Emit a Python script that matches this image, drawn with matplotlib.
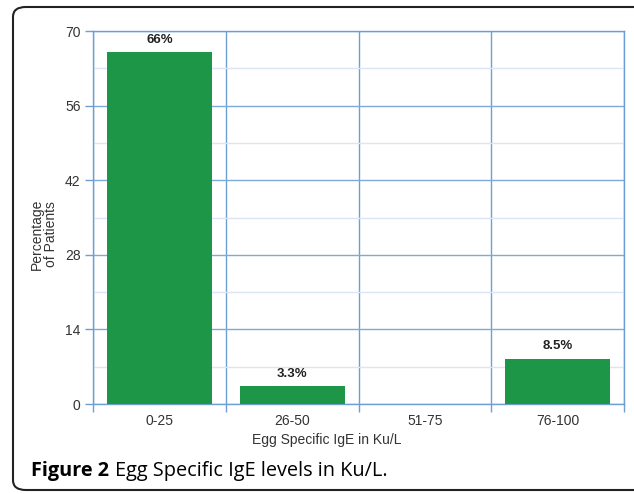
import matplotlib
matplotlib.use("Agg")
import matplotlib.pyplot as plt
import matplotlib.patches as patches
import numpy as np

# data
categories = ["0-25", "26-50", "51-75", "76-100"]
percentages = [66, 3.3, 0, 8.5]
bar_labels = ["66%", "3.3%", None, "8.5%"]
y_ticks = [0, 14, 28, 42, 56, 70]

green = "#1e9648"
grid_major = "#7eaadb"
grid_minor = "#dbe6f4"
line_blue = "#6d9fd3"

fig = plt.figure(figsize=(6.34, 4.94), dpi=100)
ax = fig.add_axes([93/634, 90/494, 531/634, 373/494])

x = np.arange(len(categories))
ax.bar(x, percentages, width=0.79, color=green, zorder=3)

# value labels above bars
for xi, val, lab in zip(x, percentages, bar_labels):
    if lab:
        ax.text(xi, val + 1.2, lab, ha="center", va="bottom", fontsize=9.5,
                fontweight="bold", family="Liberation Sans", color="#222222")

ax.set_xlim(-0.5, len(categories) - 0.5)
ax.set_ylim(0, 70)

# y grid: major every 14, minor every 7
ax.set_yticks(y_ticks)
ax.set_yticks(np.arange(7, 70, 14), minor=True)
ax.grid(axis="y", which="major", color=grid_major, lw=1.0, zorder=0)
ax.grid(axis="y", which="minor", color=grid_minor, lw=1.0, zorder=0)

# x grid at the category boundaries
ax.set_xticks(x)
ax.set_xticklabels(categories)
ax.set_xticks(np.arange(-0.5, len(categories)), minor=True)
ax.grid(axis="x", which="minor", color=line_blue, lw=1.0, zorder=0)

ax.tick_params(axis="x", which="major", length=0, pad=7, labelsize=10,
               labelcolor="#333333")
ax.tick_params(axis="x", which="minor", length=6, color=line_blue, width=1)
ax.tick_params(axis="y", which="major", length=6, color=line_blue, width=1,
               labelsize=10, labelcolor="#333333", pad=3)
ax.tick_params(axis="y", which="minor", length=0)
for t in ax.get_xticklabels() + ax.get_yticklabels():
    t.set_family("Liberation Sans")

for side in ["left", "bottom", "right", "top"]:
    ax.spines[side].set_color(line_blue)
    ax.spines[side].set_linewidth(1.0)

fig.text(327/634, 1 - 440/494, "Egg Specific IgE in Ku/L", fontsize=10,
         family="Liberation Sans", color="#333333", ha="center", va="center")
fig.text(44/634, 1 - 234/494, "Percentage\nof Patients", rotation=90,
         ha="center", va="center", fontsize=10, family="Liberation Sans",
         color="#333333", linespacing=1.05)

# caption: bold part, then the rest right after it
cap_y = 1 - 471/494
bold = fig.text(31/634, cap_y, "Figure 2", fontsize=14.3, fontweight="bold",
                family="Open Sans", va="center", ha="left")
fig.canvas.draw()
bb = bold.get_window_extent().transformed(fig.transFigure.inverted())
fig.text(bb.x1 + 6/634, cap_y, "Egg Specific IgE levels in Ku/L.", fontsize=14.3,
         family="Open Sans", va="center", ha="left")

# rounded frame around the figure
frame = patches.FancyBboxPatch((13/634, 4/494), 640/634, 483/494,
                               boxstyle="round,pad=0,rounding_size=0.02",
                               transform=fig.transFigure, fill=False,
                               edgecolor="#222222", lw=1.5, clip_on=False)
fig.patches.append(frame)

fig.savefig("out.png", dpi=100)
